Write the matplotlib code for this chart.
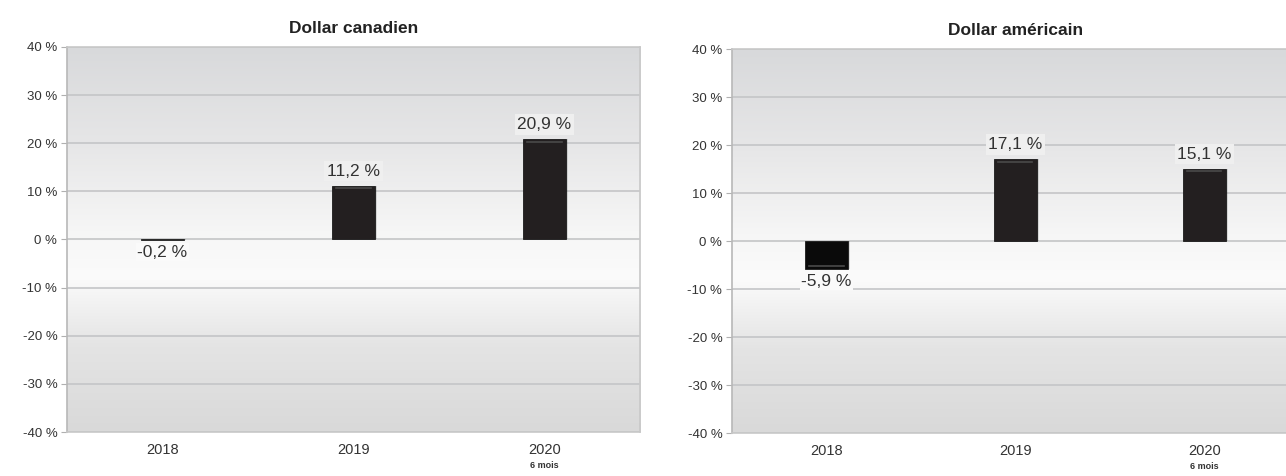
import matplotlib.pyplot as plt
import numpy as np
from matplotlib.colors import LinearSegmentedColormap

plt.rcParams["font.family"] = ["Liberation Sans", "DejaVu Sans"]

years = ["2018", "2019", "2020"]
sub_label = "6 mois"
cad_values = [-0.2, 11.2, 20.9]
usd_values = [-5.9, 17.1, 15.1]
titles = ["Dollar canadien", "Dollar américain"]
yticks = list(range(-40, 41, 10))

BAR_COLOR = "#231f20"
TEXT_COLOR = "#333333"
GRID_COLOR = "#c4c5c7"

# background fade: grey at top and bottom, nearly white around zero
bg = LinearSegmentedColormap.from_list(
    "bg", [(0.0, "#d9d9d9"), (0.22, "#e4e4e4"), (0.40, "#fbfbfb"),
           (0.52, "#f6f6f6"), (0.75, "#e6e6e7"), (1.0, "#d8d9db")])


def fmt(v):
    return f"{v:.1f} %".replace(".", ",")


def draw_panel(ax, values, title, colors):
    ax.set_xlim(-0.5, 2.5)
    ax.set_ylim(-40, 40)
    grad = np.linspace(0, 1, 256).reshape(-1, 1)
    ax.imshow(grad, cmap=bg, aspect="auto", extent=[0, 1, 0, 1],
              origin="lower", transform=ax.transAxes, zorder=0)
    for y in yticks:
        ax.axhline(y, color=GRID_COLOR, lw=1.2, zorder=1)

    x = np.arange(len(values))
    # soft drop shadow behind the bars
    ax.bar(x + 0.012, values, width=0.225, color="#000000", alpha=0.12,
           zorder=2)
    ax.bar(x, values, width=0.225, color=colors, edgecolor="#1a1a1a",
           lw=0.6, zorder=3)
    for xi, v in zip(x, values):
        if abs(v) > 1:
            ax.plot([xi - 0.09, xi + 0.09], [v - 0.6 * np.sign(v)] * 2,
                    color="#4a4a4a", lw=1.2, zorder=4)
        if v >= 0:
            ax.annotate(fmt(v), (xi, v), xytext=(0, 5), textcoords="offset points",
                        ha="center", va="bottom", fontsize=12.5, color=TEXT_COLOR,
                        bbox=dict(boxstyle="square,pad=0.15", fc="#efefef", ec="none"),
                        zorder=5)
        else:
            ax.annotate(fmt(v), (xi, v), xytext=(0, -3), textcoords="offset points",
                        ha="center", va="top", fontsize=12.5, color=TEXT_COLOR,
                        bbox=dict(boxstyle="square,pad=0.1", fc="#fafafa", ec="none"),
                        zorder=5)

    ax.set_yticks(yticks)
    ax.set_yticklabels([f"{t} %" for t in yticks], fontsize=9.5, color=TEXT_COLOR)
    ax.set_xticks(x)
    ax.set_xticklabels(years, fontsize=10.5, color=TEXT_COLOR)
    ax.tick_params(axis="x", length=0, pad=8)
    ax.tick_params(axis="y", length=4, color="#b0b0b0", pad=3)
    ax.annotate(sub_label, (2, 0), xycoords=("data", "axes fraction"),
                xytext=(0, -21), textcoords="offset points", ha="center",
                va="top", fontsize=6.5, fontweight="bold", color=TEXT_COLOR)
    for s in ax.spines.values():
        s.set_color("#c8c8c8")
        s.set_linewidth(1.2)
    ax.spines["left"].set_color("#b8b8b8")
    ax.set_title(title, fontsize=12.5, fontweight="bold", color="#222222", pad=10)


fig = plt.figure(figsize=(12.86, 4.76), dpi=100)
ax1 = fig.add_axes([0.0521, 0.0924, 0.4456, 0.809])
ax2 = fig.add_axes([0.5692, 0.0903, 0.4409, 0.8067])

draw_panel(ax1, cad_values, titles[0], ["#555555", BAR_COLOR, BAR_COLOR])
draw_panel(ax2, usd_values, titles[1], ["#0a0a0a", BAR_COLOR, BAR_COLOR])

fig.savefig("out.png", dpi=100)
